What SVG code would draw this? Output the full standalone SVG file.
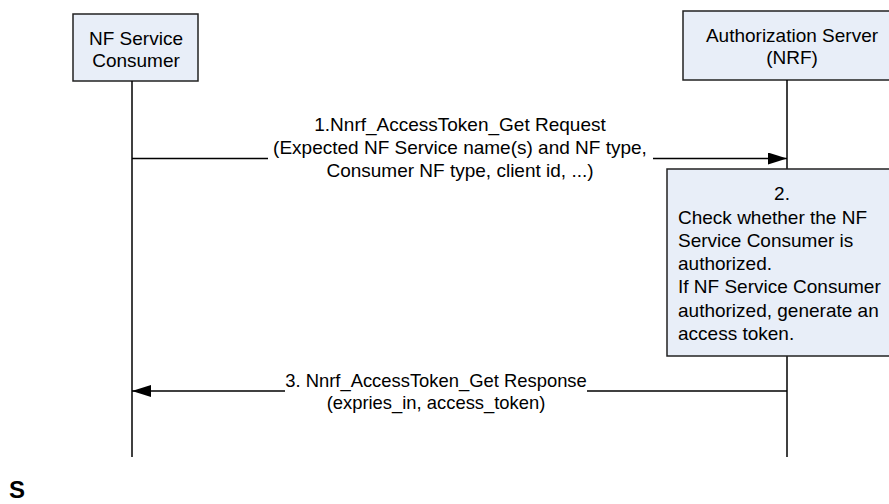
<svg xmlns="http://www.w3.org/2000/svg" width="889" height="504" viewBox="0 0 889 504">
<style>
.box{fill:#E8EEF8;stroke:#222;stroke-width:1.5}
.life{stroke:#000;stroke-width:1.5;fill:none}
.msg{stroke:#000;stroke-width:1.5;fill:none}
text{font-family:"Liberation Sans",Arial,sans-serif;font-size:19px;fill:#000}
.c{text-anchor:middle}
.r{font-size:18.4px}
</style>
<defs>
<marker id="ah" markerWidth="19" markerHeight="12" refX="19" refY="6" orient="auto" markerUnits="userSpaceOnUse">
<path d="M0,0 L19,6 L0,12 Z" fill="#000"/>
</marker>
</defs>
<rect width="889" height="504" fill="#fff"/>
<g id="consumer">
<rect class="box" x="73" y="14" width="125" height="67"/>
<text class="c" x="136" y="45">NF Service</text>
<text class="c" x="136" y="67">Consumer</text>
</g>
<g id="nrf">
<rect class="box" x="683" y="11" width="220" height="69"/>
<text class="c" x="792" y="42">Authorization Server</text>
<text class="c" x="792" y="64">(NRF)</text>
</g>
<g id="lifelines">
<line class="life" x1="132" y1="81" x2="132" y2="457"/>
<line class="life" x1="787" y1="80" x2="787" y2="169"/>
<line class="life" x1="787" y1="356" x2="787" y2="457"/>
</g>
<g id="check">
<rect class="box" x="667" y="169" width="240" height="187"/>
<text class="c" x="782" y="200">2.</text>
<text x="678" y="224">Check whether the NF</text>
<text x="678" y="247">Service Consumer is</text>
<text x="678" y="270">authorized.</text>
<text x="678" y="293">If NF Service Consumer</text>
<text x="678" y="317">authorized, generate an</text>
<text x="678" y="340">access token.</text>
</g>
<g id="connectors">
<polyline class="msg" points="132,158.5 268,158.5"/>
<polyline class="msg" points="653,158.5 787,158.5" marker-end="url(#ah)"/>
<polyline class="msg" points="787,391 587,391"/>
<polyline class="msg" points="285,391 132,391" marker-end="url(#ah)"/>
</g>
<g id="labels">
<text class="c" x="460" y="131">1.Nnrf_AccessToken_Get Request</text>
<text class="c" x="460" y="154">(Expected NF Service name(s) and NF type,</text>
<text class="c" x="460" y="177">Consumer NF type, client id, ...)</text>
<text class="c r" x="436" y="387">3. Nnrf_AccessToken_Get Response</text>
<text class="c r" x="436" y="409">(expries_in, access_token)</text>
</g>
<text x="9" y="498" style="font-size:24px;font-weight:bold">S</text>
</svg>
